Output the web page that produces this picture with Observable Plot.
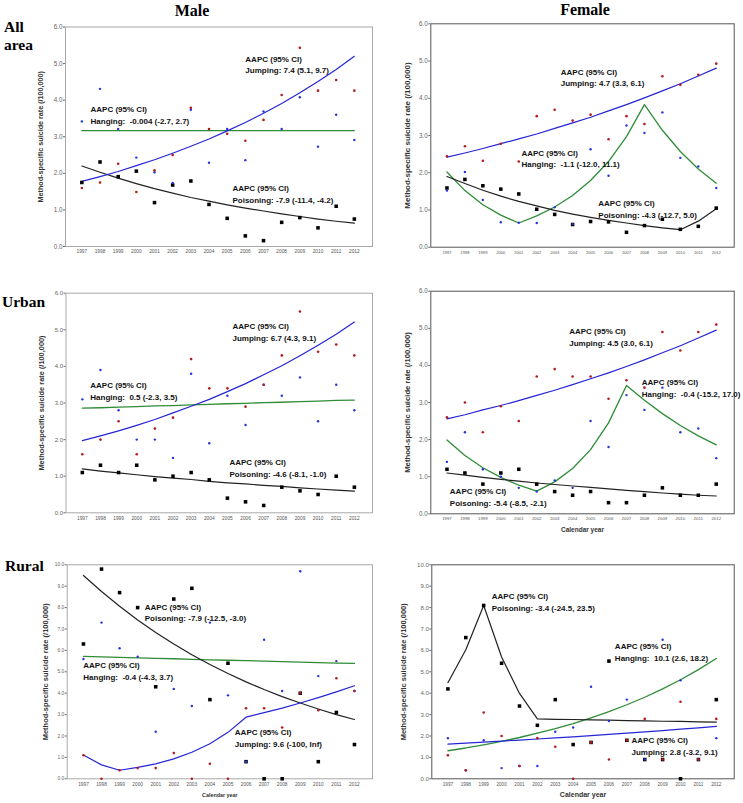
<!DOCTYPE html>
<html>
<head>
<meta charset="utf-8">
<script src="https://cdn.jsdelivr.net/npm/d3@7"></script>
<script src="https://cdn.jsdelivr.net/npm/@observablehq/plot@0.6"></script>
<style>
  body { margin: 0; background: #fff; }
  #wrap { position: relative; width: 743px; height: 803px; background: #fff; overflow: hidden; }
  .panel { position: absolute; }
  .head { position: absolute; font-family: "Liberation Serif", "Times New Roman", serif; font-weight: bold; line-height: 1; color: #000; white-space: nowrap; }
  svg text { white-space: pre; }
</style>
</head>
<body>
<div id="wrap">
  <div class="head" style="left:192px; top:3px; font-size:16px; transform:translateX(-50%);">Male</div>
  <div class="head" style="left:585px; top:2px; font-size:16px; transform:translateX(-50%);">Female</div>
  <div class="head" style="left:4px; top:19px; font-size:15.5px;">All</div>
  <div class="head" style="left:4px; top:37px; font-size:15.5px;">area</div>
  <div class="head" style="left:2px; top:294px; font-size:15.5px;">Urban</div>
  <div class="head" style="left:5px; top:558px; font-size:15.5px;">Rural</div>
</div>
<script>
// ---------------- DATA ----------------
const years = [1997,1998,1999,2000,2001,2002,2003,2004,2005,2006,2007,2008,2009,2010,2011,2012];
const yTicks6 = [0,1,2,3,4,5,6];
const yTicks10 = [0,1,2,3,4,5,6,7,8,9,10];
const yLabel = "Method-specific suicide rate (/100,000)";
const xLabel = "Calendar year";

// Male, all area
const jumpMaleAll = [1.60,1.75,2.26,1.49,2.08,2.50,3.79,3.21,3.08,2.89,3.46,4.14,5.43,4.26,4.55,4.26];
const hangMaleAll = [3.42,4.31,3.21,2.43,2.03,1.74,3.74,2.29,3.21,2.36,3.69,3.21,4.08,2.73,3.60,2.91];
const poisMaleAll = [1.75,2.31,1.91,2.06,1.20,1.68,1.79,1.15,0.77,0.29,0.16,0.66,0.79,0.51,1.10,0.75];
const jumpFitMaleAll = [1.78,1.91,2.05,2.21,2.37,2.55,2.74,2.94,3.16,3.39,3.64,3.91,4.20,4.51,4.84,5.20];
const hangFitMaleAll = [3.17,3.17,3.17,3.17,3.17,3.17,3.17,3.17,3.17,3.17,3.17,3.17,3.17,3.17,3.17,3.17];
const poisFitMaleAll = [2.20,2.03,1.87,1.72,1.58,1.46,1.34,1.24,1.14,1.05,0.97,0.89,0.82,0.75,0.69,0.64];
const annMaleAll = [
  {x: 2006.0, y: 5.00, text: "AAPC (95% CI)\nJumping: 7.4 (5.1, 9.7)"},
  {x: 1997.48, y: 3.61, text: "AAPC (95% CI)\nHanging:  -0.004 (-2.7, 2.7)"},
  {x: 2005.29, y: 1.45, text: "AAPC (95% CI)\nPoisoning: -7.9 (-11.4, -4.2)"}
];

// Female, all area
const jumpFemaleAll = [2.44,2.71,2.32,2.78,2.30,3.52,3.69,3.40,3.56,2.90,3.52,3.31,4.59,4.36,4.63,4.93];
const hangFemaleAll = [1.52,2.02,1.27,0.67,0.66,0.65,1.07,0.62,2.63,1.92,3.27,3.07,3.62,2.40,2.17,1.59];
const poisFemaleAll = [1.59,1.82,1.65,1.56,1.43,1.02,0.88,0.61,0.69,0.68,0.40,0.58,0.75,0.48,0.56,1.05];
const jumpFitFemaleAll = [2.42,2.53,2.65,2.78,2.91,3.04,3.19,3.34,3.49,3.66,3.83,4.01,4.20,4.39,4.60,4.81];
const hangFitFemaleAll = [2.02,1.52,1.14,0.86,0.65,0.84,1.08,1.39,1.79,2.30,2.97,3.83,3.14,2.57,2.10,1.72];
const poisFitFemaleAll = [1.90,1.71,1.53,1.37,1.23,1.11,0.99,0.89,0.80,0.72,0.65,0.58,0.52,0.47,0.70,1.03];
const annFemaleAll = [
  {x: 2003.34, y: 4.58, text: "AAPC (95% CI)\nJumping: 4.7 (3.3, 6.1)"},
  {x: 2001.15, y: 2.40, text: "AAPC (95% CI)\nHanging:  -1.1 (-12.0, 11.1)"},
  {x: 2005.43, y: 1.045, text: "AAPC (95% CI)\nPoisoning: -4.3 (-12.7, 5.0)"}
];

// Male, urban
const jumpMaleUrban = [1.6,2.0,2.5,1.6,2.3,2.6,4.2,3.4,3.4,2.9,3.5,4.3,5.5,4.4,4.6,4.3];
const hangMaleUrban = [3.1,3.9,2.8,2.0,2.0,1.5,3.8,1.9,3.2,2.4,3.5,3.2,3.7,2.5,3.5,2.8];
const poisMaleUrban = [1.1,1.3,1.1,1.3,0.9,1.0,1.1,0.9,0.4,0.3,0.2,0.7,0.6,0.5,1.0,0.7];
const jumpFitMaleUrban = [1.97,2.10,2.24,2.39,2.55,2.73,2.91,3.10,3.31,3.53,3.77,4.02,4.29,4.58,4.88,5.21];
const hangFitMaleUrban = [2.86,2.87,2.89,2.90,2.92,2.93,2.95,2.96,2.98,2.99,3.01,3.02,3.04,3.05,3.07,3.08];
const poisFitMaleUrban = [1.20,1.14,1.09,1.04,0.99,0.95,0.91,0.86,0.82,0.79,0.75,0.72,0.68,0.65,0.62,0.59];
const annMaleUrban = [
  {x: 2005.28, y: 4.96, text: "AAPC (95% CI)\nJumping: 6.7 (4.3, 9.1)"},
  {x: 1997.44, y: 3.34, text: "AAPC (95% CI)\nHanging:  0.5 (-2.3, 3.5)"},
  {x: 2005.11, y: 1.25, text: "AAPC (95% CI)\nPoisoning: -4.6 (-8.1, -1.0)"}
];

// Female, urban
const jumpFemaleUrban = [2.6,3.0,2.2,2.9,2.5,3.7,3.9,3.7,3.7,3.1,3.6,3.4,4.9,4.4,4.9,5.1];
const hangFemaleUrban = [1.4,2.2,1.2,1.0,0.7,0.6,0.9,0.7,2.5,1.8,3.2,2.8,3.4,2.2,2.3,1.5];
const poisFemaleUrban = [1.2,1.1,0.8,1.1,1.2,0.8,0.6,0.5,0.6,0.3,0.3,0.5,0.7,0.5,0.5,0.8];
const jumpFitFemaleUrban = [2.56,2.67,2.80,2.92,3.05,3.19,3.33,3.48,3.64,3.80,3.97,4.15,4.34,4.53,4.74,4.95];
const hangFitFemaleUrban = [1.99,1.57,1.24,0.98,0.77,0.61,0.86,1.22,1.73,2.45,3.46,3.06,2.70,2.38,2.10,1.86];
const poisFitFemaleUrban = [1.10,1.04,0.98,0.93,0.88,0.83,0.79,0.75,0.71,0.67,0.63,0.60,0.56,0.53,0.50,0.48];
const annFemaleUrban = [
  {x: 2003.81, y: 4.78, text: "AAPC (95% CI)\nJumping: 4.5 (3.0, 6.1)"},
  {x: 2007.85, y: 3.41, text: "AAPC (95% CI)\nHanging:  -0.4 (-15.2, 17.0)"},
  {x: 1997.16, y: 0.47, text: "AAPC (95% CI)\nPoisoning: -5.4 (-8.5, -2.1)"}
];

// Male, rural
const jumpMaleRural = [1.1,0.0,0.4,0.5,0.5,1.2,0.0,0.7,0.0,3.3,3.3,2.4,4.0,3.2,4.7,4.1];
const hangMaleRural = [5.6,7.3,6.1,5.7,2.2,4.2,3.4,7.3,3.9,0.8,6.5,4.1,9.7,4.8,5.5,4.1];
const poisMaleRural = [6.3,9.8,8.7,8.0,4.3,8.4,8.9,3.7,5.4,0.8,0.0,0.0,4.0,0.8,3.1,1.6];
const jumpFitMaleRural = [1.11,0.65,0.40,0.53,0.70,0.93,1.24,1.64,2.17,2.88,3.09,3.30,3.54,3.79,4.06,4.35];
const hangFitMaleRural = [5.72,5.70,5.67,5.65,5.63,5.61,5.58,5.56,5.54,5.52,5.50,5.48,5.45,5.43,5.41,5.39];
const poisFitMaleRural = [9.50,8.75,8.06,7.42,6.84,6.30,5.80,5.34,4.92,4.53,4.17,3.84,3.54,3.26,3.00,2.77];
const annMaleRural = [
  {x: 2000.39, y: 7.81, text: "AAPC (95% CI)\nPoisoning: -7.9 (-12.5, -3.0)"},
  {x: 1996.99, y: 5.07, text: "AAPC (95% CI)\nHanging:  -0.4 (-4.3, 3.7)"},
  {x: 2005.38, y: 1.94, text: "AAPC (95% CI)\nJumping: 9.6 (-100, Inf)"}
];

// Female, rural
const jumpFemaleRural = [1.1,0.4,3.1,2.0,0.6,1.9,1.5,0.0,1.7,0.9,1.8,2.8,0.9,3.6,0.9,2.8];
const hangFemaleRural = [1.9,0.4,1.8,0.5,0.6,0.6,2.2,2.4,4.3,2.7,3.7,0.9,6.5,4.6,0.9,1.9];
const poisFemaleRural = [4.2,6.6,8.1,5.4,3.4,2.5,3.7,1.6,1.7,5.5,1.8,0.9,0.9,0.0,0.9,3.7];
const jumpFitFemaleRural = [1.62,1.67,1.71,1.76,1.81,1.86,1.91,1.96,2.02,2.08,2.13,2.19,2.25,2.32,2.38,2.45];
const hangFitFemaleRural = [1.31,1.44,1.59,1.75,1.93,2.13,2.34,2.58,2.85,3.14,3.46,3.81,4.20,4.63,5.10,5.62];
const poisFitFemaleRural = [4.49,6.03,8.10,5.69,3.99,2.80,2.78,2.77,2.75,2.74,2.72,2.71,2.69,2.68,2.66,2.65];
const annFemaleRural = [
  {x: 1999.45, y: 8.29, text: "AAPC (95% CI)\nPoisoning: -3.4 (-24.5, 23.5)"},
  {x: 2006.33, y: 5.96, text: "AAPC (95% CI)\nHanging:  10.1 (2.6, 18.2)"},
  {x: 2007.26, y: 1.56, text: "AAPC (95% CI)\nJumping: 2.8 (-3.2, 9.1)"}
];

// ---------------- STYLE / LAYOUT ----------------
const C = {
  jumpDot: "#b31b1b", hangDot: "#2432e0", poisSq: "#000",
  jumpLine: "#2525d8", hangLine: "#2f8c37", poisLine: "#222"
};
const toRows = arr => years.map((year, i) => ({year, v: arr[i]}));

const panels = [
  {left: 0, top: 0, width: 380, height: 265, mL: 65, mR: 8, mT: 26.5, mB: 19, ymax: 6, ticks: yTicks6,
   frame: "#a8a8a8", yFont: 6.3, xFont: 4.8, yDx: -25, yLabFont: 7.2, xLab: false,
   jump: jumpMaleAll, hang: hangMaleAll, pois: poisMaleAll, jf: jumpFitMaleAll, hf: hangFitMaleAll, pf: poisFitMaleAll, ann: annMaleAll},
  {left: 380, top: 0, width: 363, height: 265, mL: 50.3, mR: 9.3, mT: 23.3, mB: 18.3, ymax: 6, ticks: yTicks6,
   frame: "#555", yFont: 6.3, xFont: 4.1, yDx: -23.3, yLabFont: 8, xLab: false,
   jump: jumpFemaleAll, hang: hangFemaleAll, pois: poisFemaleAll, jf: jumpFitFemaleAll, hf: hangFitFemaleAll, pf: poisFitFemaleAll, ann: annFemaleAll},
  {left: 0, top: 280, width: 380, height: 260, mL: 65.5, mR: 8, mT: 12.7, mB: 27.7, ymax: 6, ticks: yTicks6,
   frame: "#a8a8a8", yFont: 6, xFont: 4.8, yDx: -24.8, yLabFont: 7.4, xLab: false,
   jump: jumpMaleUrban, hang: hangMaleUrban, pois: poisMaleUrban, jf: jumpFitMaleUrban, hf: hangFitMaleUrban, pf: poisFitMaleUrban, ann: annMaleUrban},
  {left: 380, top: 280, width: 363, height: 260, mL: 50.3, mR: 9.3, mT: 10.7, mB: 26.7, ymax: 6, ticks: yTicks6,
   frame: "#555", yFont: 6.3, xFont: 4.3, yDx: -23.3, yLabFont: 7.7, xLab: true, xLabFont: 6.5,
   jump: jumpFemaleUrban, hang: hangFemaleUrban, pois: poisFemaleUrban, jf: jumpFitFemaleUrban, hf: hangFitFemaleUrban, pf: poisFitFemaleUrban, ann: annFemaleUrban},
  {left: 0, top: 550, width: 380, height: 253, mL: 66.7, mR: 8, mT: 14.3, mB: 24.7, ymax: 10, ticks: yTicks10,
   frame: "#a8a8a8", yFont: 4.8, xFont: 4.8, yDx: -21.7, yLabFont: 7.5, xLab: true, xLabFont: 5.4,
   jump: jumpMaleRural, hang: hangMaleRural, pois: poisMaleRural, jf: jumpFitMaleRural, hf: hangFitMaleRural, pf: poisFitMaleRural, ann: annMaleRural},
  {left: 380, top: 550, width: 363, height: 253, mL: 51.3, mR: 9.3, mT: 14.3, mB: 24.7, ymax: 10, ticks: yTicks10,
   frame: "#555", yFont: 6, xFont: 4.6, yDx: -28.3, yLabFont: 7.5, xLab: true, xLabFont: 7,
   jump: jumpFemaleRural, hang: hangFemaleRural, pois: poisFemaleRural, jf: jumpFitFemaleRural, hf: hangFitFemaleRural, pf: poisFitFemaleRural, ann: annFemaleRural}
];

const wrap = document.getElementById("wrap");
const fmt = d3.format(".1f");

for (const p of panels) {
  const marks = [
    Plot.frame({stroke: p.frame, strokeWidth: 1}),
    Plot.axisX(years, {tickSize: 0, tickPadding: 3.5, tickFormat: d => String(d), fontSize: p.xFont, color: "#555", label: null}),
    Plot.axisY(p.ticks, {tickSize: 2, tickPadding: 1, tickFormat: fmt, fontSize: p.yFont, color: "#666", label: null}),
    Plot.text([yLabel], {text: d => d, frameAnchor: "left", textAnchor: "middle", lineAnchor: "middle", dx: p.yDx, rotate: -90,
      fontSize: p.yLabFont, fontWeight: "bold", fill: "#333"}),
    Plot.line(toRows(p.hf), {x: "year", y: "v", stroke: C.hangLine, strokeWidth: 1.3}),
    Plot.line(toRows(p.pf), {x: "year", y: "v", stroke: C.poisLine, strokeWidth: 1.2}),
    Plot.line(toRows(p.jf), {x: "year", y: "v", stroke: C.jumpLine, strokeWidth: 1.2}),
    Plot.dot(toRows(p.pois), {x: "year", y: "v", symbol: "square", r: 2.0, fill: C.poisSq, stroke: null}),
    Plot.dot(toRows(p.hang), {x: "year", y: "v", r: 1.2, fill: C.hangDot, stroke: null}),
    Plot.dot(toRows(p.jump), {x: "year", y: "v", r: 1.3, fill: C.jumpDot, stroke: null}),
    Plot.text(p.ann, {x: "x", y: "y", text: "text", textAnchor: "start", lineAnchor: "middle", lineHeight: 1.45,
      fontSize: 8, fontWeight: "bold", fill: "#111"})
  ];
  if (p.xLab) {
    marks.push(Plot.text([xLabel], {text: d => d, frameAnchor: "bottom", textAnchor: "middle", dy: 18.4,
      fontSize: p.xLabFont, fontWeight: "bold", fill: "#333"}));
  }
  const chart = Plot.plot({
    width: p.width, height: p.height,
    marginLeft: p.mL, marginRight: p.mR, marginTop: p.mT, marginBottom: p.mB,
    x: {domain: [1996.1, 2013], label: null},
    y: {domain: [0, p.ymax], label: null},
    style: {background: "none", overflow: "visible", fontFamily: "Liberation Sans, Arial, sans-serif"},
    marks
  });
  const div = document.createElement("div");
  div.className = "panel";
  div.style.left = p.left + "px";
  div.style.top = p.top + "px";
  div.appendChild(chart);
  wrap.appendChild(div);
}
</script>
</body>
</html>
